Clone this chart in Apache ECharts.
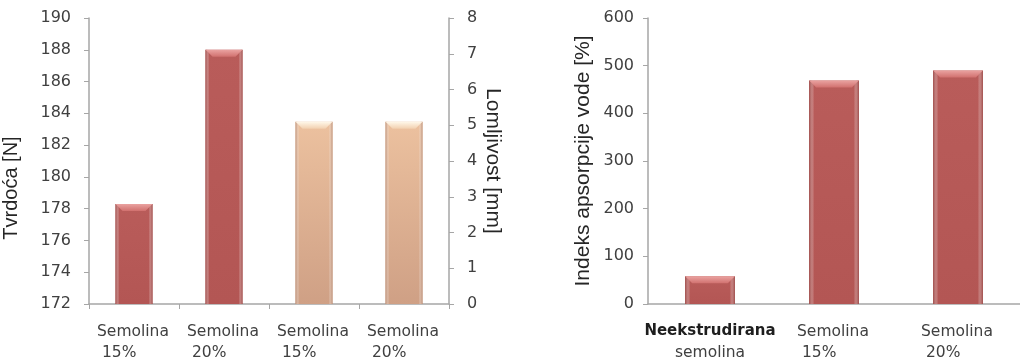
<!DOCTYPE html>
<html>
<head>
<meta charset="utf-8">
<script src="https://cdn.jsdelivr.net/npm/echarts@6/dist/echarts.min.js"></script>
<style>
html,body{margin:0;padding:0;background:#fff;}
#c{width:1020px;height:361px;}
</style>
</head>
<body>
<div id="c"></div>
<script>
// ---- data ----
var leftCategories = ['Semolina\n15%', 'Semolina\n20%', 'Semolina\n15%', 'Semolina\n20%'];
var hardnessIdx = [0, 1];
var hardnessValues = [178.3, 188.0];      // Tvrdoća [N]
var brittleIdx = [2, 3];
var brittleValues = [5.1, 5.1];           // Lomljivost [mm]
var rightCategories = ['Neekstrudirana\nsemolina', 'Semolina\n15%', 'Semolina\n20%'];
var wafValues = [58, 469, 490];           // Indeks apsorpcije vode [%]

var hardnessAxis = {min: 172, max: 190, interval: 2};
var brittleAxis = {min: 0, max: 8, interval: 1};
var wafAxis = {min: 0, max: 600, interval: 100};

function pairs(idx, vals) { return idx.map(function (i, k) { return [i, vals[k]]; }); }

var RED = {edge: '#9a4442', body: '#b95c5a', bodyB: '#b35654', bevT: '#eaa3a1', bevB: '#d1716f'};
var PEACH = {edge: '#b98a70', body: '#ecc19f', bodyB: '#cfa085', bevT: '#fff8ea', bevB: '#f2d0b0'};

function bevelBar(col, ratio) {
  return function (params, api) {
    var i = api.value(0), v = api.value(1);
    var top = api.coord([i, v]);
    var cs = params.coordSys;
    var bottom = cs.y + cs.height;
    var w = api.size([1, 0])[0] * ratio;
    var x = top[0] - w / 2, y = top[1], h = bottom - y;
    var b = Math.min(7, h / 2);
    var E = echarts.graphic;
    return {
      type: 'group',
      children: [
        {type: 'rect', shape: {x: x, y: y, width: w, height: h},
          style: {fill: new E.LinearGradient(0, 0, 0, 1, [{offset: 0, color: col.body}, {offset: 1, color: col.bodyB}])}},
        {type: 'rect', shape: {x: x, y: y, width: w, height: h},
          style: {fill: new E.LinearGradient(0, 0, 1, 0, [
            {offset: 0, color: col.edge}, {offset: 0.1, color: 'rgba(255,255,255,0)'},
            {offset: 0.9, color: 'rgba(255,255,255,0)'}, {offset: 1, color: col.edge}])}},
        {type: 'polygon', shape: {points: [[x, y], [x + w, y], [x + w - b, y + b], [x + b, y + b]]},
          style: {fill: new E.LinearGradient(0, 0, 0, 1, [{offset: 0, color: col.bevT}, {offset: 1, color: col.bevB}])}}
      ]
    };
  };
}

var AX = '#a6a6a6';
var LBL = '#404040';
var leftLabelFmt = function (v) {
  var p = v.split('\n');
  return '{a|' + p[0] + '}\n{a| ' + p[1] + '}';
};
var rightLabelFmt = function (v, i) {
  var p = v.split('\n');
  if (i === 0) return '{n|' + p[0] + '}\n{c|' + p[1] + '}';
  return '{a|' + p[0] + '}\n{a| ' + p[1] + '}';
};
var richLeft = {
  a: {width: 74, align: 'left', fontFamily: 'DejaVu Sans', fontSize: 15.5, color: LBL, lineHeight: 21},
  n: {align: 'center', fontFamily: 'DejaVu Sans', fontWeight: 'bold', fontSize: 15, color: '#1e1e1e', lineHeight: 21},
  c: {align: 'center', fontFamily: 'DejaVu Sans', fontSize: 15.5, color: LBL, lineHeight: 21}
};
var nameStyle = {fontFamily: 'Liberation Sans', fontSize: 21, color: '#262626'};

var chart = echarts.init(document.getElementById('c'));
chart.setOption({
  animation: false,
  backgroundColor: '#fff',
  grid: [
    {left: 88, top: 18, width: 361, height: 286},
    {left: 648, top: 18, width: 382, height: 286}
  ],
  xAxis: [
    {type: 'category', gridIndex: 0, data: leftCategories,
      axisLine: {lineStyle: {color: AX, width: 1.5}},
      axisTick: {show: true, length: 5, lineStyle: {color: AX}},
      axisLabel: {margin: 17, formatter: leftLabelFmt, rich: richLeft, interval: 0}},
    {type: 'category', gridIndex: 1, data: rightCategories,
      axisLine: {lineStyle: {color: AX, width: 1.5}},
      axisTick: {show: false},
      axisLabel: {margin: 17, formatter: rightLabelFmt, rich: richLeft, interval: 0}}
  ],
  yAxis: [
    {type: 'value', gridIndex: 0, min: hardnessAxis.min, max: hardnessAxis.max, interval: hardnessAxis.interval,
      name: 'Tvrdoća [N]', nameLocation: 'middle', nameGap: 68, nameRotate: 90,
      nameTextStyle: Object.assign({}, nameStyle, {fontSize: 20, padding: [0, 54, 0, 0]}),
      axisLine: {show: true, lineStyle: {color: AX, width: 1.5}},
      axisTick: {show: true, length: 5, lineStyle: {color: AX}},
      axisLabel: {margin: 18, color: LBL, fontFamily: 'DejaVu Sans', fontSize: 16},
      splitLine: {show: false}},
    {type: 'value', gridIndex: 0, position: 'right', min: brittleAxis.min, max: brittleAxis.max, interval: brittleAxis.interval,
      name: 'Lomljivost [mm]', nameLocation: 'middle', nameGap: 33, nameRotate: -90,
      nameTextStyle: nameStyle,
      axisLine: {show: true, lineStyle: {color: AX, width: 1.5}},
      axisTick: {show: true, length: 5, lineStyle: {color: AX}},
      axisLabel: {margin: 18, color: LBL, fontFamily: 'DejaVu Sans', fontSize: 16},
      splitLine: {show: false}},
    {type: 'value', gridIndex: 1, min: wafAxis.min, max: wafAxis.max, interval: wafAxis.interval,
      name: 'Indeks apsorpcije vode [%]', nameLocation: 'middle', nameGap: 54, nameRotate: 90,
      nameTextStyle: nameStyle,
      axisLine: {show: true, lineStyle: {color: AX, width: 1.5}},
      axisTick: {show: true, length: 5, lineStyle: {color: AX}},
      axisLabel: {margin: 14, color: LBL, fontFamily: 'DejaVu Sans', fontSize: 16},
      splitLine: {show: false}}
  ],
  series: [
    {type: 'custom', name: 'Tvrdoća', xAxisIndex: 0, yAxisIndex: 0, data: pairs(hardnessIdx, hardnessValues),
      renderItem: bevelBar(RED, 0.41), encode: {x: 0, y: 1}},
    {type: 'custom', name: 'Lomljivost', xAxisIndex: 0, yAxisIndex: 1, data: pairs(brittleIdx, brittleValues),
      renderItem: bevelBar(PEACH, 0.41), encode: {x: 0, y: 1}},
    {type: 'custom', name: 'Indeks apsorpcije vode', xAxisIndex: 1, yAxisIndex: 2, data: pairs([0, 1, 2], wafValues),
      renderItem: bevelBar(RED, 0.40), encode: {x: 0, y: 1}}
  ]
});
</script>
</body>
</html>
